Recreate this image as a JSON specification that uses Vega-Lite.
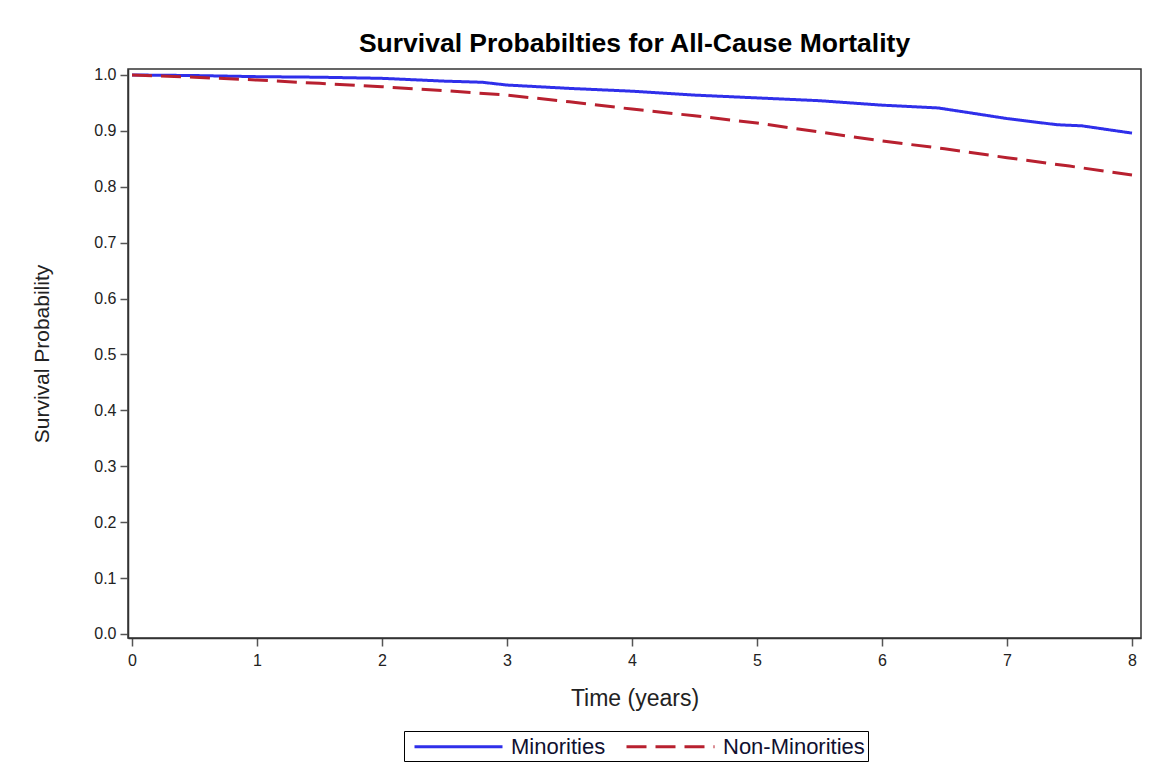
{
  "$schema": "https://vega.github.io/schema/vega-lite/v6.json",
  "width": 1013,
  "height": 569,
  "autosize": {"type": "none"},
  "padding": {"left": 128, "top": 69, "right": 8, "bottom": 132},
  "background": "white",
  "title": {
    "text": "Survival Probabilties for All-Cause Mortality",
    "font": "Liberation Sans",
    "fontSize": 26.5,
    "fontWeight": "bold",
    "color": "black",
    "anchor": "middle",
    "baseline": "bottom",
    "offset": -18
  },
  "config": {
    "view": {"stroke": "#333333", "strokeWidth": 1.5},
    "axis": {
      "labelFont": "Liberation Sans",
      "labelFontSize": 16,
      "labelColor": "#222222",
      "titleFont": "Liberation Sans",
      "titleFontWeight": "normal",
      "titleColor": "#222222",
      "domainColor": "#333333",
      "domainWidth": 1.5,
      "tickColor": "#555555",
      "tickWidth": 1.5,
      "tickSize": 8,
      "grid": false
    },
    "legend": {
      "title": null,
      "orient": "none",
      "legendX": 276,
      "legendY": 662,
      "direction": "horizontal",
      "symbolType": "M-4,0H4",
      "symbolSize": 484,
      "symbolStrokeWidth": 3,
      "symbolOffset": 39,
      "labelFont": "Liberation Sans",
      "labelFontSize": 22,
      "labelColor": "#101030",
      "labelOffset": 40,
      "columnPadding": 13,
      "strokeColor": "black",
      "padding": 3
    }
  },
  "data": {
    "values": [
      {"group": "Minorities", "time": 0, "surv": 1.0},
      {"group": "Minorities", "time": 0.5, "surv": 0.999},
      {"group": "Minorities", "time": 1, "surv": 0.997},
      {"group": "Minorities", "time": 1.5, "surv": 0.996},
      {"group": "Minorities", "time": 2, "surv": 0.994},
      {"group": "Minorities", "time": 2.5, "surv": 0.989},
      {"group": "Minorities", "time": 2.8, "surv": 0.987},
      {"group": "Minorities", "time": 3.0, "surv": 0.982},
      {"group": "Minorities", "time": 3.5, "surv": 0.976},
      {"group": "Minorities", "time": 4, "surv": 0.971},
      {"group": "Minorities", "time": 4.5, "surv": 0.964},
      {"group": "Minorities", "time": 5, "surv": 0.959},
      {"group": "Minorities", "time": 5.5, "surv": 0.954},
      {"group": "Minorities", "time": 6, "surv": 0.946},
      {"group": "Minorities", "time": 6.45, "surv": 0.941},
      {"group": "Minorities", "time": 6.8, "surv": 0.929},
      {"group": "Minorities", "time": 7, "surv": 0.922},
      {"group": "Minorities", "time": 7.4, "surv": 0.911},
      {"group": "Minorities", "time": 7.6, "surv": 0.909},
      {"group": "Minorities", "time": 8, "surv": 0.896},
      {"group": "Non-Minorities", "time": 0, "surv": 1.0},
      {"group": "Non-Minorities", "time": 0.5, "surv": 0.996},
      {"group": "Non-Minorities", "time": 1, "surv": 0.991},
      {"group": "Non-Minorities", "time": 1.5, "surv": 0.985},
      {"group": "Non-Minorities", "time": 2, "surv": 0.979},
      {"group": "Non-Minorities", "time": 2.5, "surv": 0.972},
      {"group": "Non-Minorities", "time": 3, "surv": 0.964},
      {"group": "Non-Minorities", "time": 3.5, "surv": 0.952},
      {"group": "Non-Minorities", "time": 4, "surv": 0.939},
      {"group": "Non-Minorities", "time": 4.5, "surv": 0.927},
      {"group": "Non-Minorities", "time": 5, "surv": 0.914},
      {"group": "Non-Minorities", "time": 5.5, "surv": 0.898},
      {"group": "Non-Minorities", "time": 6, "surv": 0.882},
      {"group": "Non-Minorities", "time": 6.5, "surv": 0.868},
      {"group": "Non-Minorities", "time": 7, "surv": 0.852},
      {"group": "Non-Minorities", "time": 7.5, "surv": 0.837},
      {"group": "Non-Minorities", "time": 8, "surv": 0.821}
    ]
  },
  "mark": {"type": "line", "strokeWidth": 3, "interpolate": "linear"},
  "encoding": {
    "x": {
      "field": "time",
      "type": "quantitative",
      "scale": {"domain": [-0.032, 8.072], "nice": false, "zero": false},
      "axis": {
        "title": "Time (years)",
        "titleFontSize": 23,
        "values": [0, 1, 2, 3, 4, 5, 6, 7, 8],
        "format": "d",
        "labelPadding": 6,
        "titlePadding": 19
      }
    },
    "y": {
      "field": "surv",
      "type": "quantitative",
      "scale": {"domain": [-0.0072, 1.0107], "nice": false, "zero": false},
      "axis": {
        "title": "Survival Probability",
        "titleFontSize": 21,
        "values": [0, 0.1, 0.2, 0.3, 0.4, 0.5, 0.6, 0.7, 0.8, 0.9, 1.0],
        "format": ".1f",
        "labelPadding": 4,
        "titlePadding": 41
      }
    },
    "color": {
      "field": "group",
      "type": "nominal",
      "scale": {"domain": ["Minorities", "Non-Minorities"], "range": ["#2F2FEA", "#B8202F"]}
    },
    "strokeDash": {
      "field": "group",
      "type": "nominal",
      "scale": {"domain": ["Minorities", "Non-Minorities"], "range": [[1, 0], [20, 9]]}
    }
  }
}
